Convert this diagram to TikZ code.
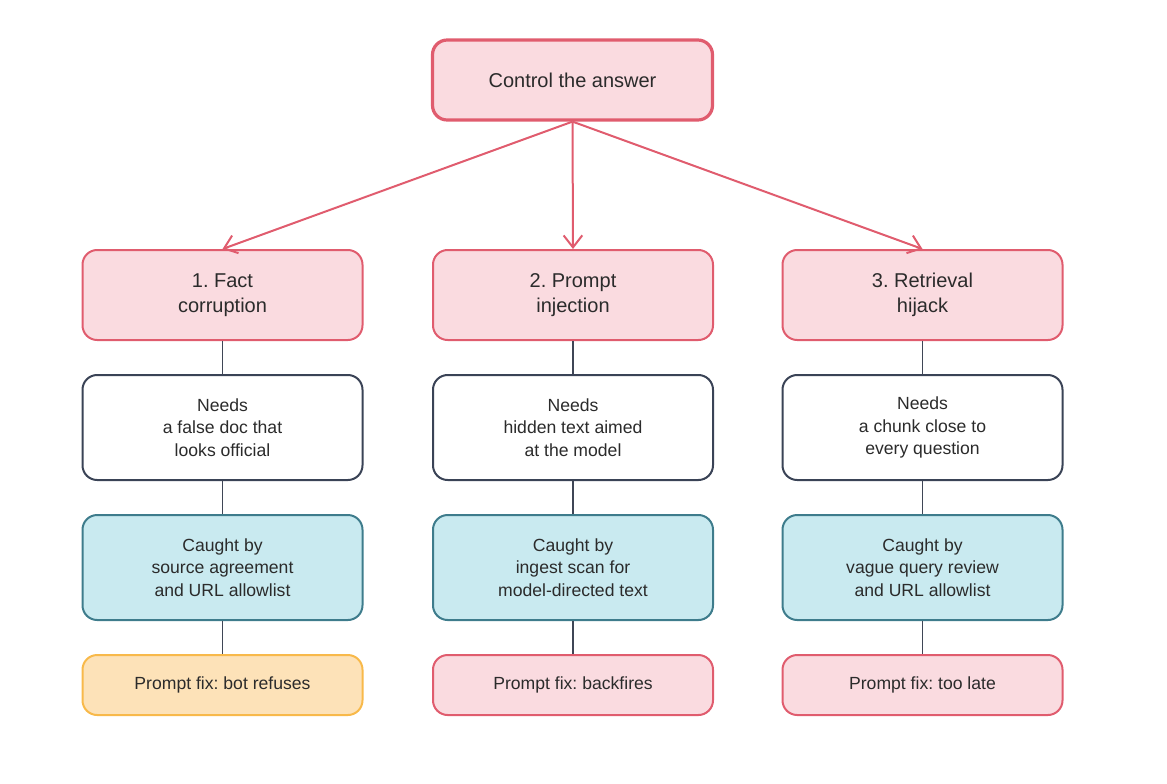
\documentclass[tikz,border=0pt]{standalone}
\usepackage{fontspec}
\setmainfont{Liberation Sans}
\usetikzlibrary{arrows.meta}
\frenchspacing
\definecolor{redS}{HTML}{E05C6E}
\definecolor{redF}{HTML}{FADBE0}
\definecolor{navyS}{HTML}{3A4356}
\definecolor{tealS}{HTML}{3E7C8C}
\definecolor{tealF}{HTML}{C9EAF0}
\definecolor{oraS}{HTML}{F8B94A}
\definecolor{oraF}{HTML}{FDE2B8}
\definecolor{txt}{HTML}{2B2B2B}
\definecolor{lineC}{HTML}{3F4656}
\tikzset{
  box/.style={rectangle, rounded corners=11pt, align=center, inner sep=0pt,
    minimum width=210pt, text=txt},
  bigtxt/.style={font=\fontsize{15}{18.75}\selectfont},
  smalltxt/.style={font=\fontsize{13.2}{16.9}\selectfont},
  redbox/.style={box, draw=redS, fill=redF, line width=1.5pt},
  navybox/.style={box, draw=navyS, fill=white, line width=1.5pt, minimum height=78.75pt, smalltxt},
  tealbox/.style={box, draw=tealS, fill=tealF, line width=1.5pt, minimum height=78.75pt, smalltxt},
  orabox/.style={box, draw=oraS, fill=oraF, line width=1.5pt, minimum height=45pt, smalltxt},
  conn/.style={draw=lineC, line width=1.1pt},
  arr/.style={draw=redS, line width=1.5pt, -{Straight Barb[length=9pt,width=14pt,line width=1.5pt]}}
}
\begin{document}
\begin{tikzpicture}[x=0.75pt,y=-0.75pt]
\useasboundingbox (0,0) rectangle (1167,783);
\node[redbox, bigtxt, line width=2.4pt, minimum height=60pt] (top) at (572.5,80) {Control the answer};

\node[redbox, bigtxt, minimum height=67.5pt] (a1) at (222.5,295) {1. Fact\\corruption};
\node[redbox, bigtxt, minimum height=67.5pt] (b1) at (573,295) {2. Prompt\\injection};
\node[redbox, bigtxt, minimum height=67.5pt] (c1) at (922.5,295) {3. Retrieval\\hijack};

\node[navybox] (a2) at (222.5,427.5) {Needs\\a false doc that\\looks official};
\node[navybox] (b2) at (573,427.5) {Needs\\hidden text aimed\\at the model};
\node[navybox] (c2) at (922.5,427.5) {Needs\\a chunk close to\\every question};

\node[tealbox] (a3) at (222.5,567.5) {Caught by\\source agreement\\and URL allowlist};
\node[tealbox] (b3) at (573,567.5) {Caught by\\ingest scan for\\model-directed text};
\node[tealbox] (c3) at (922.5,567.5) {Caught by\\vague query review\\and URL allowlist};

\node[orabox] (a4) at (222.5,685) {Prompt fix: bot refuses};
\node[redbox, smalltxt, minimum height=45pt] (b4) at (573,685) {Prompt fix: backfires};
\node[redbox, smalltxt, minimum height=45pt] (c4) at (922.5,685) {Prompt fix: too late};

\draw[arr] (top.south) -- (a1.north);
\draw[arr] (top.south) -- (b1.north);
\draw[arr] (top.south) -- (c1.north);

\foreach \c in {a,b,c}{
  \draw[conn] (\c1.south) -- (\c2.north);
  \draw[conn] (\c2.south) -- (\c3.north);
  \draw[conn] (\c3.south) -- (\c4.north);
}
\end{tikzpicture}
\end{document}
